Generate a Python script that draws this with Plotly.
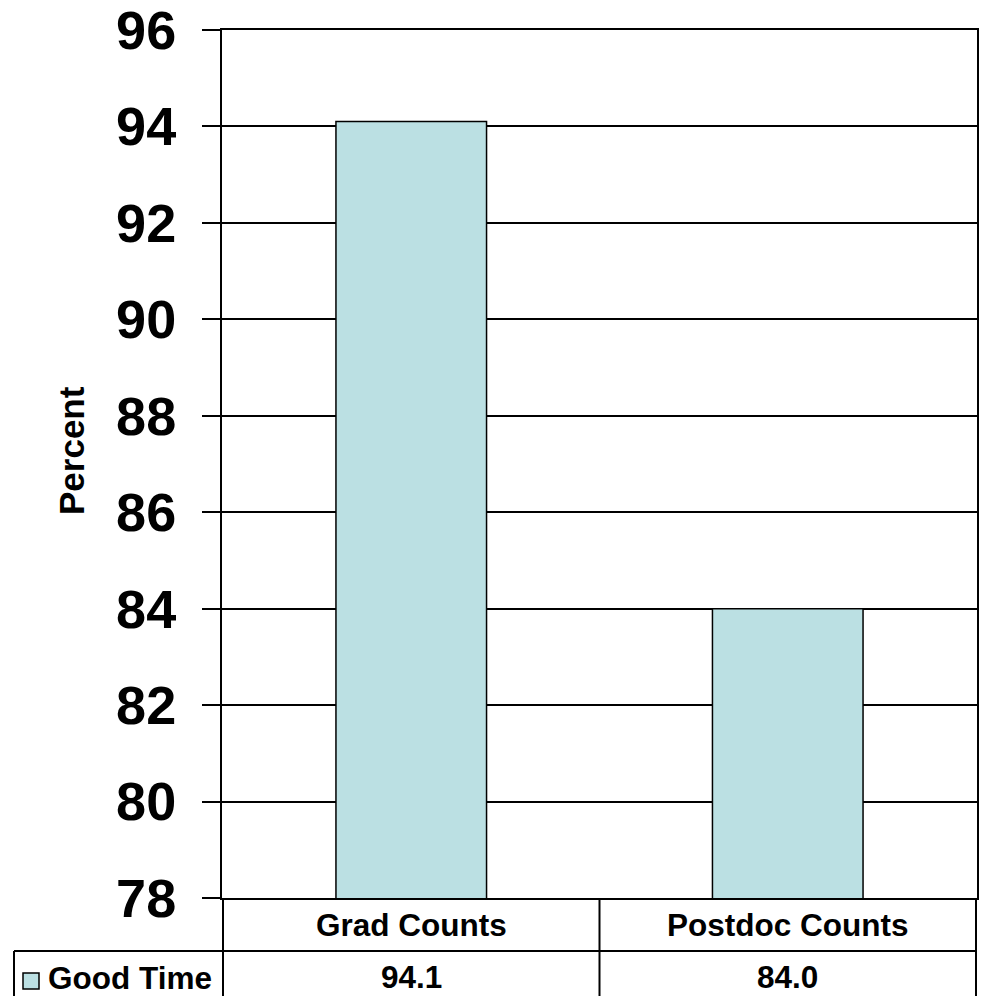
import plotly.graph_objects as go

# Chart data
categories = ["Grad Counts", "Postdoc Counts"]
good_time = [94.1, 84.0]
series_name = "Good Time"
y_ticks = [78, 80, 82, 84, 86, 88, 90, 92, 94, 96]

W, H = 981, 996
ML, MR, MT, MB = 222, 4, 30, 98
PW = W - ML - MR
PH = H - MT - MB
FONT = "Liberation Sans, Arial, sans-serif"
BAR_COLOR = "#BBE0E3"
TABLE_SIZE = 31.5


def fx(px):
    """Pixel x -> paper x."""
    return (px - ML) / PW


def fy(py):
    """Pixel y -> paper y."""
    return (H - MB - py) / PH


fig = go.Figure()
fig.add_trace(go.Bar(
    x=categories,
    y=good_time,
    name=series_name,
    marker=dict(color=BAR_COLOR, line=dict(color="black", width=1.5)),
    showlegend=False,
))

fig.update_layout(
    width=W, height=H,
    margin=dict(l=ML, r=MR, t=MT, b=MB, autoexpand=False),
    paper_bgcolor="white",
    plot_bgcolor="white",
    bargap=0.6,
    font=dict(family=FONT, color="black"),
    xaxis=dict(
        showticklabels=False, ticks="", showgrid=False, automargin=False,
        showline=True, linecolor="black", linewidth=2, mirror=True,
    ),
    yaxis=dict(
        range=[y_ticks[0], y_ticks[-1]],
        tickvals=y_ticks,
        tickfont=dict(size=54, family=FONT, weight="bold", color="black"),
        ticks="outside", ticklen=18, tickwidth=2, tickcolor="black",
        ticklabelstandoff=15,
        ticklabeloverflow="allow",
        automargin=False,
        showgrid=True, gridcolor="black", gridwidth=2,
        showline=True, linecolor="black", linewidth=2, mirror=True,
        zeroline=False,
    ),
)

# Axis title
fig.add_annotation(
    text="Percent", textangle=-90, showarrow=False,
    xref="paper", yref="paper", x=fx(71), y=fy(451),
    xanchor="center", yanchor="middle",
    font=dict(size=35, family=FONT, weight="bold", color="black"),
)

# Data table beneath the plot
line = dict(color="black", width=2)
row1_bottom = 951
table_bottom = 1010
# horizontal line between category row and value row
fig.add_shape(type="line", xref="paper", yref="paper",
              x0=fx(14), x1=fx(977), y0=fy(row1_bottom), y1=fy(row1_bottom), line=line)
# left border of legend cell
fig.add_shape(type="line", xref="paper", yref="paper",
              x0=fx(14), x1=fx(14), y0=fy(row1_bottom), y1=fy(table_bottom), line=line)
# verticals at the category boundaries
for xb in [-0.5, 0.5, 1.5]:
    fig.add_shape(type="line", xref="x", yref="paper",
                  x0=xb, x1=xb, y0=0, y1=fy(table_bottom), line=line)

cell_font = dict(size=TABLE_SIZE, family=FONT, weight="bold", color="black")
for cat, val in zip(categories, good_time):
    fig.add_annotation(text=cat, x=cat, xref="x", yref="paper", y=fy(925),
                       xanchor="center", yanchor="middle", showarrow=False,
                       font=cell_font)
    fig.add_annotation(text=f"{val:.1f}", x=cat, xref="x", yref="paper", y=fy(977),
                       xanchor="center", yanchor="middle", showarrow=False,
                       font=cell_font)

# legend key in the table
fig.add_shape(type="rect", xref="paper", yref="paper",
              x0=fx(23), x1=fx(39), y0=fy(973), y1=fy(989),
              fillcolor=BAR_COLOR, line=dict(color="black", width=1.5))
fig.add_annotation(text=series_name, xref="paper", yref="paper",
                   x=fx(46), y=fy(978), xanchor="left", yanchor="middle",
                   showarrow=False, font=cell_font)

fig.write_html("out.html")
